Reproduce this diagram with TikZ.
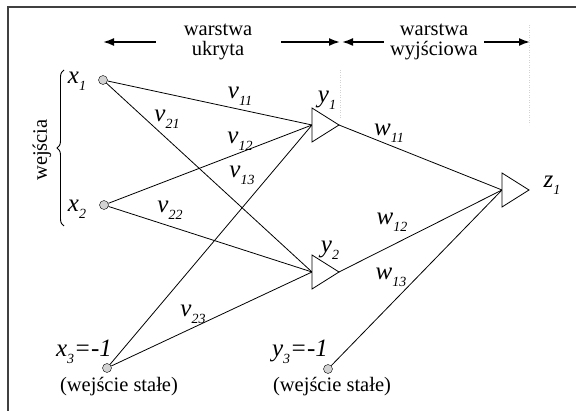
\documentclass[tikz,border=0pt]{standalone}
\usepackage{fontspec}
\setmainfont{Liberation Serif}
\usetikzlibrary{arrows.meta, positioning, decorations.pathreplacing}
\newcommand{\lbl}[2]{#1\raisebox{-0.28em}{\fontsize{14}{14}\selectfont #2}}
\tikzset{
    inp/.style={
        circle,
        draw,
        fill=gray!35,
        minimum size=9pt,
        inner sep=0pt
    },
    neuron/.style={draw, line width=0.8pt, fill=white},
    sym/.style={font=\fontsize{25}{26}\selectfont\itshape, inner sep=1pt},
    caption/.style={font=\fontsize{20.5}{20}\selectfont, align=center, inner sep=1pt},
    link/.style={line width=0.8pt},
    dimarrow/.style={-{Latex[length=11pt,width=8pt]}, line width=1.8pt},
    guide/.style={gray!35, dotted, line width=0.5pt}
}
\begin{document}
\begin{tikzpicture}[x=1pt,y=-1pt]
\useasboundingbox (0,0) rectangle (576,411);

% frame
\draw[line width=1.4pt, black!75] (8,411) -- (8,7) -- (576,7);

% layer headings
\node[caption] (hid) at (218,42) {warstwa\\ ukryta};
\node[caption] (out) at (434,42) {warstwa\\ wyjściowa};
\coordinate (hidL) at (103,42);
\coordinate (hidR) at (340,42);
\coordinate (outL) at (342,42);
\coordinate (outR) at (530,42);
\draw[dimarrow, shorten <=27pt] (hid.west) -- (hidL);
\draw[dimarrow, shorten <=28pt] (hid.east) -- (hidR);
\draw[dimarrow, shorten <=5pt] (out.west) -- (outL);
\draw[dimarrow, shorten <=5pt] (out.east) -- (outR);
\draw[guide] (340,70) -- (340,118);
\draw[guide] (529,25) -- (529,125);

% inputs
\node[inp] (x1) at (103,80) {};
\node[inp] (x2) at (104,205) {};
\node[inp] (x3) at (107,368) {};
\node[inp] (y3) at (328,369) {};

\node[sym] (lx1) at (77,81) {\lbl{x}{1}};
\node[sym] (lx2) at (77,209) {\lbl{x}{2}};
\node[sym] (lx3) at (84,352) {\lbl{x}{3}=-1};
\node[sym] (ly3) at (300,352) {\lbl{y}{3}=-1};
\node[caption] (c1) at (119,387) {(wejście stałe)};
\node[caption] (c2) at (332,387) {(wejście stałe)};

% brace
\coordinate (bb) at (64,226);
\coordinate (bt) at (64,70);
\draw[line width=0.9pt, decorate, decoration={brace, amplitude=7pt}] (bb) -- (bt);
\node[caption, rotate=90] (wej) at (42,150) {wejścia};

% neurons (base middle and apex)
\coordinate (y1) at (312,125);
\coordinate (y1a) at (339,125);
\coordinate (y2) at (312,272);
\coordinate (y2a) at (339,272);
\coordinate (z1) at (502,190);
\coordinate (z1a) at (529,190);

% hidden layer weights
\draw[link] (x1) -- (y1);
\draw[link] (x1) -- (y2);
\draw[link] (x2) -- (y1);
\draw[link] (x2) -- (y2);
\draw[link] (x3) -- (y1);
\draw[link] (x3) -- (y2);

% output layer weights
\draw[link] (y1a) -- (z1);
\draw[link] (y2a) -- (z1);
\draw[link] (y3) -- (z1);

\draw[neuron] (y1) ++(0,-17) -- (y1a) -- ++(-27,17) -- cycle;
\draw[neuron] (y2) ++(0,-17) -- (y2a) -- ++(-27,17) -- cycle;
\draw[neuron] (z1) ++(0,-17) -- (z1a) -- ++(-27,17) -- cycle;

\node[sym] (ly1) at (327,100) {\lbl{y}{1}};
\node[sym] (ly2) at (330,250) {\lbl{y}{2}};
\node[sym] (lz1) at (552,185) {\lbl{z}{1}};

\node[sym] (v11) at (240,96) {\lbl{v}{11}};
\node[sym] (v21) at (167,119) {\lbl{v}{21}};
\node[sym] (v12) at (240,141) {\lbl{v}{12}};
\node[sym] (v13) at (242,175) {\lbl{v}{13}};
\node[sym] (v22) at (170,210) {\lbl{v}{22}};
\node[sym] (v23) at (193,314) {\lbl{v}{23}};
\node[sym] (w11) at (389,133) {\lbl{w}{11}};
\node[sym] (w12) at (392,222) {\lbl{w}{12}};
\node[sym] (w13) at (391,277) {\lbl{w}{13}};

\end{tikzpicture}
\end{document}
